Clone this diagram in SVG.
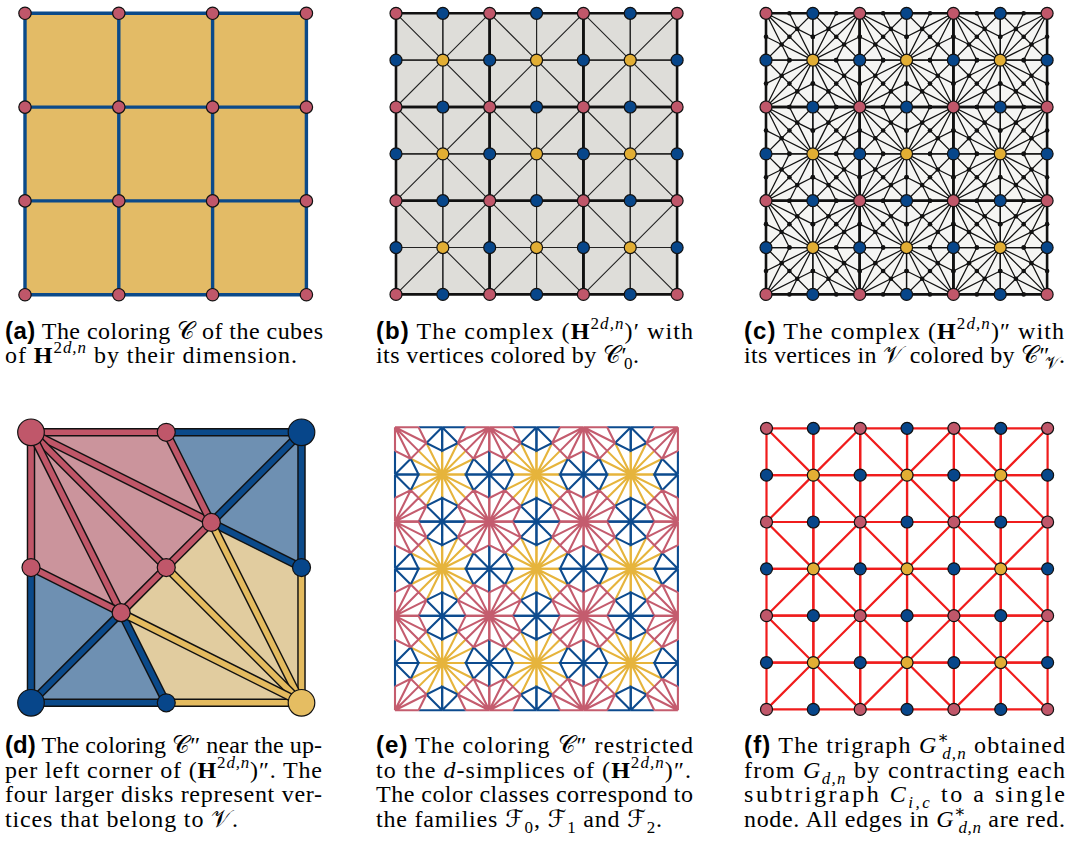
<svg xmlns="http://www.w3.org/2000/svg" xmlns:xlink="http://www.w3.org/1999/xlink" width="1075" height="841" viewBox="0 0 1075 841">
<style>
.vp{fill:#C0576A;stroke:#111;stroke-width:1.2}
.vb{fill:#07468A;stroke:#111;stroke-width:1.2}
.vy{fill:#E2AE34;stroke:#111;stroke-width:1.2}
.thick{fill:none;stroke:#111;stroke-width:2.6}
.thin{fill:none;stroke:#222;stroke-width:1.1}
.thinc{fill:none;stroke:#111;stroke-width:1.25}
.dot{fill:#111}
.red{fill:none;stroke:#F01C1C;stroke-width:2.2}
.ep{fill:none;stroke:#C45C6E;stroke-width:2.1}
.eb{fill:none;stroke:#0D4B8E;stroke-width:2.1}
.ey{fill:none;stroke:#E6B43C;stroke-width:2.1}
.dk{fill:none;stroke:#111;stroke-width:8.5}
.dpk{fill:none;stroke:#C05668;stroke-width:5.6}
.dbl{fill:none;stroke:#0B4A8A;stroke-width:5.6}
.dyl{fill:none;stroke:#E4BB5F;stroke-width:5.6}
.cap{font-family:"Liberation Serif","DejaVu Serif",serif;font-size:24px;fill:#000}
.lb{font-family:"Liberation Sans",Arial,sans-serif;font-weight:bold}
.bf{font-weight:bold}
.it{font-style:italic}
.sm{font-size:17px}
.cal{font-family:"DejaVu Sans","Noto Sans",serif}
</style>
<defs>
<g id="qb"><path class="thin" d="M46.85,0V46.85H0M0,0L46.85,46.85"/><path class="thick" d="M0,0H46.85M0,0V46.85"/></g>
<g id="cb"><use href="#qb"/><use href="#qb" transform="translate(93.7,0) scale(-1,1)"/><use href="#qb" transform="translate(0,93.7) scale(1,-1)"/><use href="#qb" transform="translate(93.7,93.7) scale(-1,-1)"/></g>
<g id="rb"><use href="#cb"/><use href="#cb" x="93.7"/><use href="#cb" x="187.4"/></g>
<g id="qcl"><path class="thinc" d="M46.85,0V46.85H0M0,0L46.85,46.85M31.233,15.617L0,0M31.233,15.617L46.85,0M31.233,15.617L46.85,46.85M31.233,15.617L23.425,0M31.233,15.617L46.85,23.425M31.233,15.617L23.425,23.425M15.617,31.233L0,0M15.617,31.233L0,46.85M15.617,31.233L46.85,46.85M15.617,31.233L0,23.425M15.617,31.233L23.425,46.85M15.617,31.233L23.425,23.425"/><path class="thick" d="M0,0H46.85M0,0V46.85"/></g>
<g id="ccl"><use href="#qcl"/><use href="#qcl" transform="translate(93.7,0) scale(-1,1)"/><use href="#qcl" transform="translate(0,93.7) scale(1,-1)"/><use href="#qcl" transform="translate(93.7,93.7) scale(-1,-1)"/></g>
<g id="rcl"><use href="#ccl"/><use href="#ccl" x="93.7"/><use href="#ccl" x="187.4"/></g>
<g id="qcd"><circle class="dot" cx="31.233" cy="15.617" r="2.3"/><circle class="dot" cx="15.617" cy="31.233" r="2.3"/><circle class="dot" cx="23.425" cy="0" r="2.3"/><circle class="dot" cx="46.85" cy="23.425" r="2.3"/><circle class="dot" cx="23.425" cy="23.425" r="2.3"/><circle class="dot" cx="0" cy="23.425" r="2.3"/><circle class="dot" cx="23.425" cy="46.85" r="2.3"/></g>
<g id="ccd"><use href="#qcd"/><use href="#qcd" transform="translate(93.7,0) scale(-1,1)"/><use href="#qcd" transform="translate(0,93.7) scale(1,-1)"/><use href="#qcd" transform="translate(93.7,93.7) scale(-1,-1)"/></g>
<g id="rcd"><use href="#ccd"/><use href="#ccd" x="93.7"/><use href="#ccd" x="187.4"/></g>
<g id="qf"><path class="red" d="M0,0H46.85V46.85H0ZM0,0L46.85,46.85"/></g>
<g id="cf"><use href="#qf"/><use href="#qf" transform="translate(93.7,0) scale(-1,1)"/><use href="#qf" transform="translate(0,93.7) scale(1,-1)"/><use href="#qf" transform="translate(93.7,93.7) scale(-1,-1)"/></g>
<g id="rf"><use href="#cf"/><use href="#cf" x="93.7"/><use href="#cf" x="187.4"/></g>
<g id="qe">
<path class="ey" d="M47.15,47.15V23.575M47.15,47.15H23.575M47.15,47.15L31.433,15.717M47.15,47.15L15.717,31.433M47.15,47.15L23.575,23.575"/>
<path class="eb" d="M23.575,0H47.15M0,23.575V47.15M47.15,0L31.433,15.717M47.15,0V23.575L31.433,15.717M0,47.15L15.717,31.433M0,47.15H23.575L15.717,31.433"/>
<path class="ep" d="M0,0H23.575M0,0V23.575M0,0L31.433,15.717M0,0L15.717,31.433M0,0L23.575,23.575M23.575,0L31.433,15.717M0,23.575L15.717,31.433M23.575,23.575L31.433,15.717M23.575,23.575L15.717,31.433"/>
</g>
<g id="ce"><use href="#qe"/><use href="#qe" transform="translate(94.3,0) scale(-1,1)"/><use href="#qe" transform="translate(0,94.3) scale(1,-1)"/><use href="#qe" transform="translate(94.3,94.3) scale(-1,-1)"/></g>
<g id="re"><use href="#ce"/><use href="#ce" x="94.3"/><use href="#ce" x="188.6"/></g>
<g id="vA"><circle class="vp" cx="0" cy="0" r="6"/><circle class="vb" cx="46.85" cy="0" r="6"/><circle class="vp" cx="93.7" cy="0" r="6"/><circle class="vb" cx="140.55" cy="0" r="6"/><circle class="vp" cx="187.4" cy="0" r="6"/><circle class="vb" cx="234.25" cy="0" r="6"/><circle class="vp" cx="281.1" cy="0" r="6"/></g>
<g id="vB"><circle class="vb" cx="0" cy="0" r="6"/><circle class="vy" cx="46.85" cy="0" r="6"/><circle class="vb" cx="93.7" cy="0" r="6"/><circle class="vy" cx="140.55" cy="0" r="6"/><circle class="vb" cx="187.4" cy="0" r="6"/><circle class="vy" cx="234.25" cy="0" r="6"/><circle class="vb" cx="281.1" cy="0" r="6"/></g>
<g id="vall"><use href="#vA"/><use href="#vB" y="46.85"/><use href="#vA" y="93.7"/><use href="#vB" y="140.55"/><use href="#vA" y="187.4"/><use href="#vB" y="234.25"/><use href="#vA" y="281.1"/></g>
<g id="vpa"><circle class="vp" cx="0" cy="0" r="6.2"/><circle class="vp" cx="93.8" cy="0" r="6.2"/><circle class="vp" cx="187.6" cy="0" r="6.2"/><circle class="vp" cx="281.4" cy="0" r="6.2"/></g>
</defs>

<rect width="1075" height="841" fill="#fff"/>

<g id="panel-a">
<rect x="25" y="13.3" width="281.4" height="281.4" fill="#E3BB66"/>
<g id="a-edges"><path fill="none" stroke="#0B4A8A" stroke-width="3.4" d="M25,13.3V294.7M118.8,13.3V294.7M212.6,13.3V294.7M306.4,13.3V294.7M25,13.3H306.4M25,107.1H306.4M25,200.9H306.4M25,294.7H306.4"/></g>
<g id="a-nodes"><use href="#vpa" x="25" y="13.3"/><use href="#vpa" x="25" y="107.1"/><use href="#vpa" x="25" y="200.9"/><use href="#vpa" x="25" y="294.7"/></g>
</g>

<g id="panel-b">
<rect x="396" y="13.3" width="281.1" height="281.1" fill="#DEDDD9"/>
<g id="b-edges" transform="translate(396,13.3)"><use href="#rb"/><use href="#rb" y="93.7"/><use href="#rb" y="187.4"/></g>
<g id="b-nodes"><use href="#vall" x="396" y="13.3"/></g>
</g>

<g id="panel-c">
<rect x="766" y="13.3" width="281.1" height="281.1" fill="#F5F5F3"/>
<g id="c-edges" transform="translate(766,13.3)"><use href="#rcl"/><use href="#rcl" y="93.7"/><use href="#rcl" y="187.4"/></g>
<g id="c-dots" transform="translate(766,13.3)"><use href="#rcd"/><use href="#rcd" y="93.7"/><use href="#rcd" y="187.4"/></g>
<g id="c-nodes"><use href="#vall" x="766" y="13.3"/></g>
</g>

<g id="panel-d">
<path fill="#CB949C" d="M31,432.3L166.25,432.3L211.33,522.47L166.25,567.55L121.17,612.63L31,567.55Z"/>
<path fill="#6E90B2" d="M166.25,432.3L301.5,432.3L301.5,567.55L211.33,522.47Z"/>
<path fill="#6E90B2" d="M31,567.55L121.17,612.63L166.25,702.8L31,702.8Z"/>
<path fill="#E1CC9F" d="M211.33,522.47L301.5,567.55L301.5,702.8L166.25,702.8L121.17,612.63L166.25,567.55Z"/>
<g id="d-edges">
<path class="dk" d="M31,432.3H166.25"/><path class="dpk" d="M31,432.3H166.25"/>
<path class="dk" d="M31,432.3V567.55"/><path class="dpk" d="M31,432.3V567.55"/>
<path class="dk" d="M31,432.3L211.33,522.47"/><path class="dpk" d="M31,432.3L211.33,522.47"/>
<path class="dk" d="M31,432.3L166.25,567.55"/><path class="dpk" d="M31,432.3L166.25,567.55"/>
<path class="dk" d="M31,432.3L121.17,612.63"/><path class="dpk" d="M31,432.3L121.17,612.63"/>
<path class="dk" d="M166.25,432.3L211.33,522.47"/><path class="dpk" d="M166.25,432.3L211.33,522.47"/>
<path class="dk" d="M31,567.55L121.17,612.63"/><path class="dpk" d="M31,567.55L121.17,612.63"/>
<path class="dk" d="M166.25,567.55L211.33,522.47"/><path class="dpk" d="M166.25,567.55L211.33,522.47"/>
<path class="dk" d="M166.25,567.55L121.17,612.63"/><path class="dpk" d="M166.25,567.55L121.17,612.63"/>
<path class="dk" d="M166.25,432.3H301.5"/><path class="dbl" d="M166.25,432.3H301.5"/>
<path class="dk" d="M301.5,432.3L211.33,522.47"/><path class="dbl" d="M301.5,432.3L211.33,522.47"/>
<path class="dk" d="M301.5,432.3V567.55"/><path class="dbl" d="M301.5,432.3V567.55"/>
<path class="dk" d="M301.5,567.55L211.33,522.47"/><path class="dbl" d="M301.5,567.55L211.33,522.47"/>
<path class="dk" d="M31,567.55V702.8"/><path class="dbl" d="M31,567.55V702.8"/>
<path class="dk" d="M31,702.8L121.17,612.63"/><path class="dbl" d="M31,702.8L121.17,612.63"/>
<path class="dk" d="M31,702.8H166.25"/><path class="dbl" d="M31,702.8H166.25"/>
<path class="dk" d="M166.25,702.8L121.17,612.63"/><path class="dbl" d="M166.25,702.8L121.17,612.63"/>
<path class="dk" d="M301.5,567.55V702.8"/><path class="dyl" d="M301.5,567.55V702.8"/>
<path class="dk" d="M166.25,702.8H301.5"/><path class="dyl" d="M166.25,702.8H301.5"/>
<path class="dk" d="M301.5,702.8L211.33,522.47"/><path class="dyl" d="M301.5,702.8L211.33,522.47"/>
<path class="dk" d="M301.5,702.8L166.25,567.55"/><path class="dyl" d="M301.5,702.8L166.25,567.55"/>
<path class="dk" d="M301.5,702.8L121.17,612.63"/><path class="dyl" d="M301.5,702.8L121.17,612.63"/>
</g>
<g id="d-TM"><circle class="vp" cx="166.25" cy="432.3" r="9"/></g>
<g id="d-LM"><circle class="vp" cx="31" cy="567.55" r="9"/></g>
<g id="d-C"><circle class="vp" cx="166.25" cy="567.55" r="9"/></g>
<g id="d-P1"><circle class="vp" cx="211.33" cy="522.47" r="9"/></g>
<g id="d-P2"><circle class="vp" cx="121.17" cy="612.63" r="9"/></g>
<g id="d-RM"><circle class="vb" cx="301.5" cy="567.55" r="9"/></g>
<g id="d-BM"><circle class="vb" cx="166.25" cy="702.8" r="9"/></g>
<g id="d-TL"><circle class="vp" cx="31" cy="432.3" r="13.3"/></g>
<g id="d-TR"><circle class="vb" cx="301.5" cy="432.3" r="13.3"/></g>
<g id="d-BL"><circle class="vb" cx="31" cy="702.8" r="13.3"/></g>
<g id="d-BR"><circle fill="#E5BD62" stroke="#111" stroke-width="1.2" cx="301.5" cy="702.8" r="13.3"/></g>
</g>

<g id="panel-e">
<g id="e-edges" transform="translate(395,427.3)"><use href="#re"/><use href="#re" y="94.3"/><use href="#re" y="188.6"/></g>
</g>

<g id="panel-f">
<g id="f-edges" transform="translate(766.5,428.3)"><use href="#rf"/><use href="#rf" y="93.7"/><use href="#rf" y="187.4"/></g>
<g id="f-nodes"><use href="#vall" x="766.5" y="428.3"/></g>
</g>

<g id="captions">
<text class="cap" x="5" y="339" textLength="318" lengthAdjust="spacing"><tspan class="lb">(a)</tspan> The coloring <tspan class="cal">𝒞</tspan> of the cubes</text>
<text class="cap" x="5" y="362.5" textLength="292" lengthAdjust="spacing">of <tspan class="bf">H</tspan><tspan class="sm" dy="-10">2<tspan class="it">d,n</tspan></tspan><tspan dy="10"> by their dimension.</tspan></text>

<text class="cap" x="376" y="339" textLength="317" lengthAdjust="spacing"><tspan class="lb">(b)</tspan> The complex (<tspan class="bf">H</tspan><tspan class="sm" dy="-10">2<tspan class="it">d,n</tspan></tspan><tspan dy="10">)′ with</tspan></text>
<text class="cap" x="376" y="362.5" textLength="263" lengthAdjust="spacing">its vertices colored by <tspan class="cal">𝒞</tspan>′<tspan class="sm" dx="-3" dy="6">0</tspan><tspan dy="-6">.</tspan></text>

<text class="cap" x="744" y="339" textLength="320" lengthAdjust="spacing"><tspan class="lb">(c)</tspan> The complex (<tspan class="bf">H</tspan><tspan class="sm" dy="-10">2<tspan class="it">d,n</tspan></tspan><tspan dy="10">)″ with</tspan></text>
<text class="cap" x="744" y="362.5" textLength="321" lengthAdjust="spacing">its vertices in <tspan class="cal">𝒱</tspan> colored by <tspan class="cal">𝒞</tspan>″<tspan class="sm cal" dx="-5" dy="6">𝒱</tspan><tspan dy="-6">.</tspan></text>

<text class="cap" x="5" y="753" textLength="317" lengthAdjust="spacing"><tspan class="lb">(d)</tspan> The coloring <tspan class="cal">𝒞</tspan>″ near the up-</text>
<text class="cap" x="5" y="777.5" textLength="317" lengthAdjust="spacing">per left corner of (<tspan class="bf">H</tspan><tspan class="sm" dy="-10">2<tspan class="it">d,n</tspan></tspan><tspan dy="10">)″. The</tspan></text>
<text class="cap" x="5" y="802" textLength="317" lengthAdjust="spacing">four larger disks represent ver-</text>
<text class="cap" x="5" y="826.5" textLength="233" lengthAdjust="spacing">tices that belong to <tspan class="cal">𝒱</tspan>.</text>

<text class="cap" x="376" y="753" textLength="317" lengthAdjust="spacing"><tspan class="lb">(e)</tspan> The coloring <tspan class="cal">𝒞</tspan>″ restricted</text>
<text class="cap" x="376" y="777.5" textLength="315" lengthAdjust="spacing">to the <tspan class="it">d</tspan>-simplices of (<tspan class="bf">H</tspan><tspan class="sm" dy="-10">2<tspan class="it">d,n</tspan></tspan><tspan dy="10">)″.</tspan></text>
<text class="cap" x="376" y="802" textLength="317" lengthAdjust="spacing">The color classes correspond to</text>
<text class="cap" x="376" y="826.5" textLength="286" lengthAdjust="spacing">the families <tspan class="cal">ℱ</tspan><tspan class="sm" dy="6">0</tspan><tspan dy="-6">, </tspan><tspan class="cal">ℱ</tspan><tspan class="sm" dy="6">1</tspan><tspan dy="-6"> and </tspan><tspan class="cal">ℱ</tspan><tspan class="sm" dy="6">2</tspan><tspan dy="-6">.</tspan></text>

<text class="cap" x="744" y="753" textLength="321" lengthAdjust="spacing"><tspan class="lb">(f)</tspan> The trigraph <tspan class="it">G</tspan><tspan class="sm" dy="-10">∗</tspan><tspan class="sm it" dx="-8" dy="16">d,n</tspan><tspan dy="-6"> obtained</tspan></text>
<text class="cap" x="744" y="777.5" textLength="321" lengthAdjust="spacing">from <tspan class="it">G</tspan><tspan class="sm it" dy="6">d,n</tspan><tspan dy="-6"> by contracting each</tspan></text>
<text class="cap" x="744" y="802" textLength="321" lengthAdjust="spacing">subtrigraph <tspan class="it">C</tspan><tspan class="sm it" dy="6">i,c</tspan><tspan dy="-6"> to a single</tspan></text>
<text class="cap" x="744" y="826.5" textLength="321" lengthAdjust="spacing">node. All edges in <tspan class="it">G</tspan><tspan class="sm" dy="-10">∗</tspan><tspan class="sm it" dx="-8" dy="16">d,n</tspan><tspan dy="-6"> are red.</tspan></text>
</g>
</svg>
